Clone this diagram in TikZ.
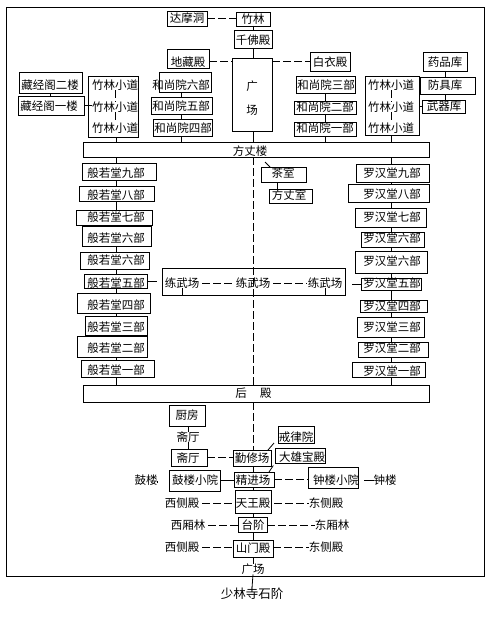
\documentclass[tikz,border=0pt]{standalone}
\usepackage{fontspec}
\setmainfont{Noto Sans CJK SC}
\usepackage{tikz}
\usetikzlibrary{positioning}
% #1 name, #2-#5 left/top/right/bottom, #6 text x, #7 text y, #8 text
\newcommand{\hall}[8]{%
  \node[hallbox, minimum width={(#4-#2)*1pt}, minimum height={(#5-#3)*1pt}] (#1) at ({(#2+#4)/2},{(#3+#5)/2}) {};
  \node[hallname] (#1t) at (#6,#7) {#8};}

\begin{document}
\begin{tikzpicture}[x=1pt, y=-1pt,
                    hallbox/.style={draw=black, line width=0.8pt, inner sep=0pt, outer sep=0pt},
                    hallname/.style={inner sep=0pt, outer sep=0pt, font=\fontsize{11.5}{13}\selectfont},
                    every path/.style={line width=0.8pt},
                    walk/.style={dash pattern=on 8pt off 3pt}]
\useasboundingbox (0,0) rectangle (494,626);
\draw (6,7) rectangle (484,576);
\coordinate (axis) at (253,0);
\coordinate (leftaxis) at (116,0);
\coordinate (rightaxis) at (391,0);
\coordinate (armoury) at (445,0);

% top of the plan
\hall{damo}{167}{11}{207}{26}{187}{18.5}{达摩洞}
\hall{zhulin}{236}{12}{270}{26}{253}{19}{竹林}
\hall{qianfo}{234}{30}{272}{48}{253}{40}{千佛殿}
\hall{dizang}{167}{49}{209}{68}{188}{62}{地藏殿}
\hall{baiyi}{310}{52}{350}{71}{330}{62}{白衣殿}
\node[hallbox, minimum width=40pt, minimum height=73pt] (plaza) at (252,94.5) {};
\node[hallname] (plazaa) at (252,86) {广};
\node[hallname] (plazab) at (252,110) {场};
\hall{jingtwo}{19}{72}{82}{93}{50}{85}{藏经阁二楼}
\hall{jingone}{18}{96}{84}{115}{49}{106}{藏经阁一楼}
\hall{yaopin}{423}{52}{467}{71}{445}{62}{药品库}
\hall{fangju}{420}{77}{475}{94}{445}{85}{防具库}
\hall{wuqi}{422}{100}{465}{113}{444}{106.5}{武器库}

\node[hallbox, minimum width=50pt, minimum height=61pt] (bambool) at (113,106.5) {};
\node[hallname] (bamboola) at (115,85) {竹林小道};
\node[hallname] (bamboolb) at (115,107) {竹林小道};
\node[hallname] (bamboolc) at (115,128) {竹林小道};
\node[hallbox, minimum width=54pt, minimum height=59pt] (bamboor) at (392,105.5) {};
\node[hallname] (bamboora) at (391,85) {竹林小道};
\node[hallname] (bamboorb) at (391,107) {竹林小道};
\node[hallname] (bamboorc) at (391,128) {竹林小道};

\hall{monksix}{159}{72}{211}{92}{181}{85}{和尚院六部}
\hall{monkfive}{151}{97}{212}{114}{181}{106}{和尚院五部}
\hall{monkfour}{153}{119}{212}{136}{183}{128}{和尚院四部}
\hall{monkthree}{296}{76}{355}{93}{326}{85}{和尚院三部}
\hall{monktwo}{294}{101}{356}{114}{325}{107}{和尚院二部}
\hall{monkone}{294}{122}{356}{136}{325}{128}{和尚院一部}
\hall{fangzhang}{83}{142}{429}{157}{250}{151}{方丈楼}

% halls down both sides
\foreach \n/\xa/\ya/\xb/\yb/\yt/\s in {nine/82/163/156/180/173/九, eight/79/186/154/201/195/八,
    seven/76/210/152/225/217/七, sixa/82/226/151/246/238/六, sixb/80/252/149/269/260/六,
    five/84/274/147/288/283/五, four/77/293/150/313/305/四, three/85/316/147/335/327/三,
    two/77/336/147/357/348/二, one/81/360/154/377/370/一}
  {\hall{bo\n}{\xa}{\ya}{\xb}{\yb}{116}{\yt}{般若堂\s 部}}
\foreach \n/\xa/\ya/\xb/\yb/\yt/\s in {nine/356/164/429/182/173/九, eight/348/184/429/202/194/八,
    seven/355/208/426/227/217/七, sixa/361/232/424/247/238/六, sixb/355/251/427/273/261/六,
    five/361/278/421/290/283/五, four/360/300/427/312/306/四, three/357/317/424/337/327/三,
    two/358/342/428/357/348/二, one/352/362/425/377/371/一}
  {\hall{luo\n}{\xa}{\ya}{\xb}{\yb}{392}{\yt}{罗汉堂\s 部}}

\hall{tea}{261}{167}{306}{182}{283}{173}{茶室}
\hall{abbot}{269}{189}{312}{203}{289}{195}{方丈室}

\node[hallbox, minimum width=183pt, minimum height=27pt] (drill) at (253.5,281.5) {};
\node[hallname] (drilla) at (182,283) {练武场};
\node[hallname] (drillb) at (253,283) {练武场};
\node[hallname] (drillc) at (325,283) {练武场};
\hall{houdian}{83}{385}{429}{402}{253.5}{393}{后\hspace{13.5pt}殿}

% front courtyards
\hall{kitchen}{169}{405}{205}{426}{187}{415}{厨房}
\node[hallname] (zhaitext) at (188,437) {斋厅};
\hall{zhai}{171}{449}{207}{466}{188}{458}{斋厅}
\hall{qinxiu}{233}{450}{271}{466}{252}{458}{勤修场}
\hall{jielv}{278}{426}{314}{443}{296}{437}{戒律院}
\hall{daxiong}{275}{448}{325}{463}{302}{457}{大雄宝殿}
\hall{jingjin}{234}{472}{274}{487}{253}{480}{精进场}
\node[hallname] (gulou) at (146,480) {鼓楼};
\hall{guyard}{169}{470}{220}{491}{195}{480}{鼓楼小院}
\hall{zhongyard}{308}{467}{358}{488}{336}{480}{钟楼小院}
\node[hallname] (zhonglou) at (385,480) {钟楼};
\hall{tianwang}{235}{490}{271}{513}{253}{503}{天王殿}
\node[hallname] (westa) at (182,503) {西侧殿};
\node[hallname] (easta) at (326,503) {东侧殿};
\hall{taijie}{238}{517}{267}{532}{253}{525}{台阶}
\node[hallname] (westwood) at (188,525) {西厢林};
\node[hallname] (eastwood) at (332,525) {东厢林};
\hall{shanmen}{233}{540}{273}{557}{253}{548}{山门殿}
\node[hallname] (westb) at (182,547) {西侧殿};
\node[hallname] (eastb) at (326,547) {东侧殿};
\node[hallname] (square) at (253,569) {广场};
\node[hallname, font=\fontsize{12.5}{14}\selectfont] (steps) at (252,594) {少林寺石阶};

% connectors
\foreach \a/\b in {zhulin/qianfo, qianfo/plaza, plaza/fangzhang, qinxiu/jingjin, jingjin/tianwang,
    tianwang/taijie, taijie/shanmen, shanmen/square}
  \draw (axis |- \a.south) -- (axis |- \b.north);
\foreach \a/\b in {fangzhang/bonine, bonine/boeight, boeight/boseven, boseven/bosixa, bosixa/bosixb,
    bosixb/bofive, bofive/bofour, bofour/bothree, bothree/botwo, botwo/boone, boone/houdian, bambool/fangzhang}
  \draw (leftaxis |- \a.south) -- (leftaxis |- \b.north);
\foreach \a/\b in {fangzhang/luonine, luonine/luoeight, luoeight/luoseven, luoseven/luosixa, luosixa/luosixb,
    luosixb/luofive, luofive/luofour, luofour/luothree, luothree/luotwo, luotwo/luoone, luoone/houdian, bamboor/fangzhang}
  \draw (rightaxis |- \a.south) -- (rightaxis |- \b.north);
\foreach \a/\b in {yaopin/fangju, fangju/wuqi}
  \draw (armoury |- \a.south) -- (armoury |- \b.north);
\draw[walk] (bamboola) -- (bamboolb);
\draw[walk] (bamboolb) -- (bamboolc);
\draw[walk] (bamboora) -- (bamboorb);
\draw[walk] (bamboorb) -- (bamboorc);
\foreach \a/\b in {monksix/monkfive, monkfive/monkfour, monkfour/fangzhang}
  \draw (monkfive |- \a.south) -- (monkfive |- \b.north);
\foreach \a/\b in {monkthree/monktwo, monktwo/monkone, monkone/fangzhang}
  \draw (monkone |- \a.south) -- (monkone |- \b.north);
\draw (jingtwot |- jingtwo.south) -- (jingtwot |- jingone.north);
\draw (jingone.east) -- (jingone.east -| bamboolb.west);
\draw (bamboor.east |- wuqi) -- (wuqi.west);
\draw[walk] (damo.east) -- (damo.east -| zhulin.west);
\draw[walk] (dizang.east |- 0,61) -- (plaza.west |- 0,61);
\draw[walk] (plaza.east |- 0,61) -- (baiyi.west |- 0,61);
\draw[walk] (axis |- fangzhang.south) -- (axis |- houdian.north);
\draw[walk] (axis |- houdian.south) -- (axis |- qinxiu.north);
\draw (tea.south -| 277,0) -- (abbot.north -| 277,0);
\coordinate (teatick) at (265,162);
\draw (teatick) -- (tea.north -| 270,0);
\draw[shorten >=5pt] (bofive.east) -- (bofive.east -| drill.west);
\draw[walk, shorten <=3pt, shorten >=1pt] (drilla.east) -- (drillb.west);
\draw[walk, shorten <=3pt, shorten >=1pt] (drillb.east) -- (drillc.west);
\draw[shorten >=7pt] (luofive.west) -- (luofive.west -| drill.east);
\draw (drilla |- drill.south) -- (drilla.south);
\draw (drillc |- drill.south) -- (drillc.south);
\draw (kitchen.south -| zhaitext) -- (zhaitext.north);
\draw (zhaitext.south) -- (zhai.north -| zhaitext);
\draw[walk] (zhai.east) -- (zhai.east -| qinxiu.west);
\draw[shorten <=3pt] (gulou.east) -- (guyard.west -| gulou.east);
\draw (guyard.east) -- (guyard.east -| jingjin.west);
\draw[walk] (jingjin.east) -- (jingjin.east -| zhongyard.west);
\draw[shorten <=6pt] (zhongyard.east |- zhonglou) -- (zhonglou.west);
\draw[walk, shorten <=3pt] (westa.east) -- (tianwang.west |- westa);
\draw[walk, shorten <=3pt] (tianwang.east |- easta) -- (easta.west);
\draw[walk, shorten <=3pt] (westwood.east) -- (taijie.west |- westwood);
\draw[walk] (taijie.east |- eastwood) -- (eastwood.west);
\draw[walk, shorten <=3pt] (westb.east) -- (shanmen.west |- westb);
\draw[walk] (shanmen.east |- eastb) -- (eastb.west);
\draw (qinxiu.north east) ++(-3,0) -- ([xshift=-4pt]jielv.south west);
\draw[shorten >=3pt] (jingjin.north east) ++(-5,0) -- (daxiong.south west);
\draw (square.south) -- (steps.north);
\end{tikzpicture}
\end{document}
